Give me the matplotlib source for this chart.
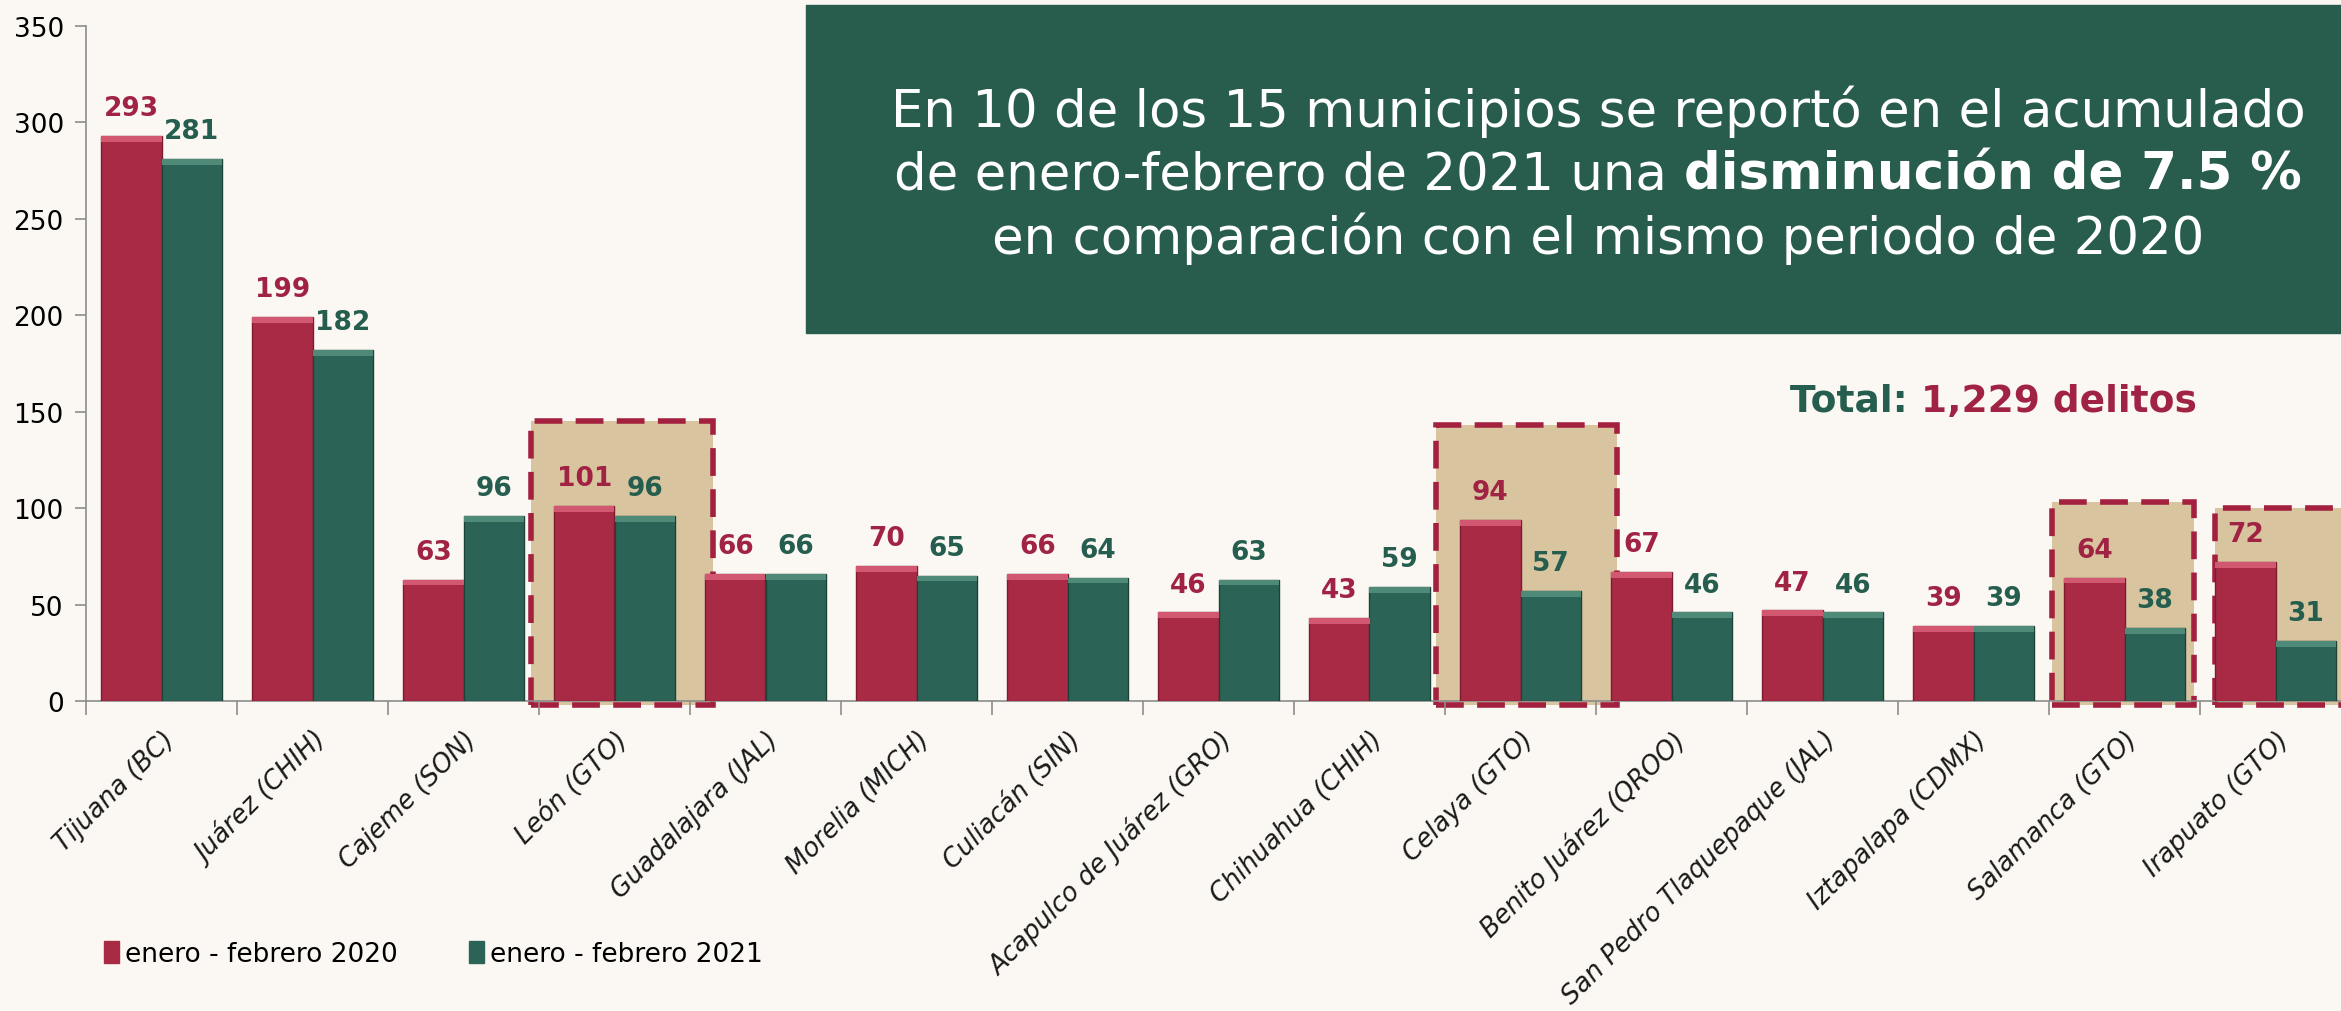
import matplotlib.pyplot as plt
import numpy as np
from matplotlib.patches import Rectangle

municipios = ['Tijuana (BC)', 'Juárez (CHIH)', 'Cajeme (SON)', 'León (GTO)',
              'Guadalajara (JAL)', 'Morelia (MICH)', 'Culiacán (SIN)',
              'Acapulco de Juárez (GRO)', 'Chihuahua (CHIH)', 'Celaya (GTO)',
              'Benito Juárez (QROO)', 'San Pedro Tlaquepaque (JAL)',
              'Iztapalapa (CDMX)', 'Salamanca (GTO)', 'Irapuato (GTO)']
ene_feb_2020 = [293, 199, 63, 101, 66, 70, 66, 46, 43, 94, 67, 47, 39, 64, 72]
ene_feb_2021 = [281, 182, 96, 96, 66, 65, 64, 63, 59, 57, 46, 46, 39, 38, 31]
serie_labels = ['enero - febrero 2020', 'enero - febrero 2021']
y_ticks = [0, 50, 100, 150, 200, 250, 300, 350]

# municipios marcados en Guanajuato (indice, izq, der, arriba)
marcados = [(3, -0.55, 0.65, 145), (9, -0.56, 0.64, 143),
            (13, -0.48, 0.46, 103), (14, -0.40, 0.70, 100)]

W, H = 2341, 1012
RED = '#A82A45'
RED_TOP = '#D25872'
RED_TXT = '#A12343'
GREEN = '#2B6456'
GREEN_TOP = '#4F8A78'
GREEN_TXT = '#255D4E'
BOX = '#285C4D'
TAN = '#D9C4A0'

def fx(px):
    return px / W

def fy(py):
    return 1 - py / H

fig = plt.figure(figsize=(W / 100, H / 100), dpi=100)
fig.patch.set_facecolor('#FBF8F3')
ax = fig.add_axes([fx(86), fy(702), 2265 / W, (702 - 27) / H])
ax.set_facecolor('none')

x = np.arange(len(municipios))
w = 0.4
v20 = np.array(ene_feb_2020)
v21 = np.array(ene_feb_2021)

ax.bar(x - w / 2, v20, w, color=RED, edgecolor='#7E1B31', linewidth=1, zorder=3)
ax.bar(x + w / 2, v21, w, color=GREEN, edgecolor='#1C4238', linewidth=1, zorder=3)
# brillo superior de las barras
ax.bar(x - w / 2, 3, w, bottom=v20 - 3, color=RED_TOP, linewidth=0, zorder=4)
ax.bar(x + w / 2, 3, w, bottom=v21 - 3, color=GREEN_TOP, linewidth=0, zorder=4)

for i, v in enumerate(v20):
    ax.annotate(str(v), (i - w / 2, v), xytext=(0, 20), textcoords='offset points',
                ha='center', va='center', fontsize=19, fontweight='bold', color=RED_TXT, zorder=5)
for i, v in enumerate(v21):
    ax.annotate(str(v), (i + w / 2, v), xytext=(0, 20), textcoords='offset points',
                ha='center', va='center', fontsize=19, fontweight='bold', color=GREEN_TXT, zorder=5)

for i, l, r, top in marcados:
    ax.add_patch(Rectangle((i + l, -2), r - l, top + 2, facecolor=TAN,
                           edgecolor='#A3213F', linewidth=4, linestyle=(0, (5, 2.4)),
                           zorder=1, clip_on=False))

ax.set_xlim(-0.5, len(municipios) - 0.5)
ax.set_ylim(0, 350)
ax.set_yticks(y_ticks)
ax.tick_params(axis='y', labelsize=19, length=8, width=1.2, color='#8C8C8C', pad=8)
ax.set_xticks(x)
ax.set_xticklabels(municipios, rotation=45, ha='right', va='top',
                   rotation_mode='anchor', fontsize=18.5, fontstyle='italic', color='#1A1A1A')
ax.set_xticks(np.arange(-0.5, len(municipios), 1), minor=True)
ax.tick_params(axis='x', which='major', length=0, pad=18)
ax.tick_params(axis='x', which='minor', length=10, width=1.2, color='#8C8C8C')
for s in ['top', 'right']:
    ax.spines[s].set_visible(False)
for s in ['left', 'bottom']:
    ax.spines[s].set_color('#8C8C8C')
    ax.spines[s].set_linewidth(1.2)

# leyenda
h1 = Rectangle((0, 0), 1, 1, color=RED)
h2 = Rectangle((0, 0), 1, 1, color=GREEN)
fig.legend([h1, h2], serie_labels, loc='center left', bbox_to_anchor=(fx(104), fy(955)),
           ncol=2, frameon=False, fontsize=19, handlelength=0.55, handleheight=0.9,
           handletextpad=0.25, columnspacing=2.7, borderpad=0, borderaxespad=0)

# recuadro de texto
fig.add_artist(Rectangle((fx(806), fy(334)), (W - 806) / W, (334 - 6) / H,
                         transform=fig.transFigure, color=BOX, zorder=1))
cx = fx(1598)
fs_box = 37
fig.text(cx, fy(112), 'En 10 de los 15 municipios se reportó en el acumulado',
         ha='center', va='center', fontsize=fs_box, color='white', zorder=2)
fig.text(cx, fy(239), 'en comparación con el mismo periodo de 2020',
         ha='center', va='center', fontsize=fs_box, color='white', zorder=2)

renderer = fig.canvas.get_renderer()
t1 = fig.text(0, fy(176), 'de enero-febrero de 2021 una ', ha='left', va='center',
              fontsize=fs_box, color='white', zorder=2)
t2 = fig.text(0, fy(176), 'disminución de 7.5 %', ha='left', va='center',
              fontsize=fs_box, fontweight='bold', color='white', zorder=2)
w1 = t1.get_window_extent(renderer).width / W
w2 = t2.get_window_extent(renderer).width / W
t1.set_x(cx - (w1 + w2) / 2)
t2.set_x(cx - (w1 + w2) / 2 + w1)

t3 = fig.text(0, fy(402), 'Total: ', ha='left', va='center', fontsize=27,
              fontweight='bold', color=GREEN_TXT)
t4 = fig.text(0, fy(402), '1,229 delitos', ha='left', va='center', fontsize=27,
              fontweight='bold', color=RED_TXT)
w3 = t3.get_window_extent(renderer).width / W
t3.set_x(fx(1790))
t4.set_x(fx(1790) + w3)

fig.savefig('out.png', dpi=100, facecolor=fig.get_facecolor())
